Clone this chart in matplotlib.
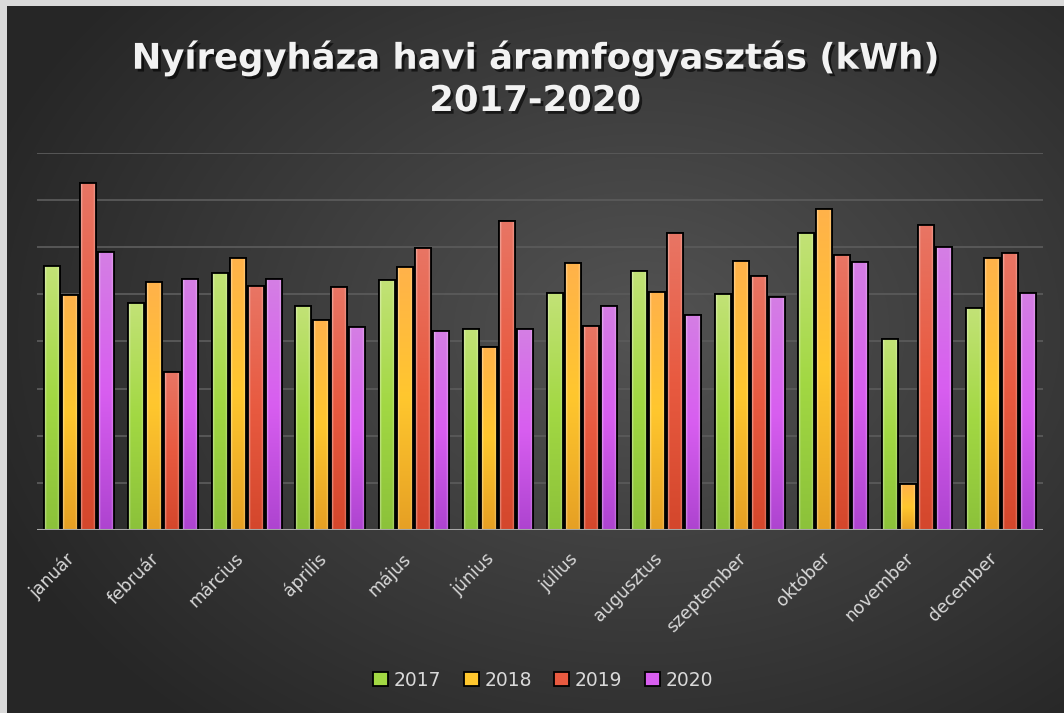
import numpy as np
import matplotlib
matplotlib.use("Agg")
import matplotlib.pyplot as plt
from matplotlib.patches import Rectangle
from matplotlib.colors import to_rgb
import matplotlib.patheffects as pe

months = ["január", "február", "március", "április", "május", "június",
          "július", "augusztus", "szeptember", "október", "november", "december"]
years = ["2017", "2018", "2019", "2020"]
v2017 = [5.59, 4.81, 5.44, 4.75, 5.30, 4.26, 5.02, 5.49, 5.01, 6.29, 4.05, 4.70]
v2018 = [4.99, 5.25, 5.77, 4.45, 5.58, 3.87, 5.66, 5.04, 5.70, 6.81, 0.97, 5.76]
v2019 = [7.36, 3.35, 5.17, 5.16, 5.98, 6.55, 4.32, 6.29, 5.39, 5.83, 6.47, 5.87]
v2020 = [5.89, 5.32, 5.32, 4.30, 4.22, 4.26, 4.75, 4.56, 4.94, 5.69, 6.00, 5.02]
series = [v2017, v2018, v2019, v2020]

# (top, middle, bottom) gradient colours
grads = [("#c2e276", "#a2d843", "#8cc23a"),
         ("#ffb24a", "#ffc72e", "#e6a024"),
         ("#e87564", "#e85a40", "#d4472c"),
         ("#d47ee4", "#d85ef0", "#ae44d0")]

W, H = 1064, 713
fig = plt.figure(figsize=(W / 100, H / 100), dpi=100)

# background
bg = fig.add_axes([0, 0, 1, 1])
bg.set_axis_off()
yy, xx = np.mgrid[0:H, 0:W]
r = np.sqrt(((xx - 640) / 700.0) ** 2 + ((yy - 330) / 520.0) ** 2)
r = np.clip(r, 0, 1)
c_in = np.array(to_rgb("#535353"))
c_out = np.array(to_rgb("#262626"))
img = c_in[None, None, :] * (1 - r[..., None]) + c_out[None, None, :] * r[..., None]
img[:, :7, :] = to_rgb("#dadada")
img[:6, :, :] = to_rgb("#dadada")
bg.imshow(img, extent=[0, W, H, 0], aspect="auto", interpolation="bilinear")
bg.set_xlim(0, W)
bg.set_ylim(H, 0)

ax = fig.add_axes([37 / W, 1 - 530 / H, (1043 - 37) / W, (530 - 152.7) / H])
ax.set_facecolor("none")
for s in ax.spines.values():
    s.set_visible(False)

n = len(months)
x = np.arange(n)
pitch = 0.215
bw = 0.19
ax.set_xlim(-0.5, n - 0.5)
ax.set_ylim(0, 8)

for gy in range(1, 9):
    ax.axhline(gy, color="#5a5a5a", lw=1.3, zorder=0)
ax.axhline(0, color="#a8a8a8", lw=2.2, zorder=5)

def grad_img(cols):
    t, m, b = [np.array(to_rgb(c)) for c in cols]
    N = 64
    s = np.linspace(0, 1, N)[:, None]
    top_half = t * (1 - np.clip(s * 2, 0, 1)) + m * np.clip(s * 2, 0, 1)
    bot = m * (1 - np.clip(s * 2 - 1, 0, 1)) + b * np.clip(s * 2 - 1, 0, 1)
    col = np.where(s < 0.5, top_half, bot)
    arr = np.repeat(col[:, None, :], 8, axis=1)
    # lighter edges (bevel)
    arr[:, 0, :] = arr[:, 0, :] * 0.6 + 0.4
    arr[:, -1, :] = arr[:, -1, :] * 0.75 + 0.25
    return np.clip(arr, 0, 1)

handles = []
for i, (vals, cols) in enumerate(zip(series, grads)):
    offs = (i - 1.5) * pitch
    bars = ax.bar(x + offs, vals, width=bw, color=cols[1], edgecolor="black",
                  linewidth=1.3, zorder=3, label=years[i])
    gimg = grad_img(cols)
    for b in bars:
        bx, by = b.get_x(), b.get_y()
        bwid, bh = b.get_width(), b.get_height()
        im = ax.imshow(gimg, extent=[bx, bx + bwid, by, by + bh], aspect="auto",
                       zorder=3.5, interpolation="bilinear", origin="upper")
        clip = Rectangle((bx, by), bwid, bh, transform=ax.transData)
        im.set_clip_path(clip)
        ax.add_patch(Rectangle((bx, by), bwid, bh, fill=False, edgecolor="black",
                               linewidth=1.3, zorder=4))
    handles.append(Rectangle((0, 0), 1, 1, facecolor=cols[1], edgecolor="black", linewidth=1.3))

ax.set_xlim(-0.5, n - 0.5)
ax.set_ylim(0, 8)
ax.set_yticks([])
ax.set_xticks(x)
ax.set_xticklabels(months, rotation=45, ha="right", fontsize=12.5, color="#d9d9d9",
                   family="DejaVu Sans")
ax.tick_params(axis="x", length=0, pad=14)

shadow = [pe.withSimplePatchShadow(offset=(2, -2), shadow_rgbFace="black", alpha=0.6)]
fig.text(0.503, 1 - 58 / H, "Nyíregyháza havi áramfogyasztás (kWh)", ha="center", va="center",
         fontsize=25.5, fontweight="bold", color="#f2f2f2", family="DejaVu Sans",
         path_effects=shadow)
fig.text(0.503, 1 - 101 / H, "2017-2020", ha="center", va="center",
         fontsize=25.5, fontweight="bold", color="#f2f2f2", family="DejaVu Sans",
         path_effects=shadow)

leg = fig.legend(handles, years, loc="center", bbox_to_anchor=(543 / W, 1 - 680 / H), ncol=4,
                 frameon=False, fontsize=13.5, labelcolor="#d9d9d9", handlelength=0.8,
                 handleheight=0.8, handletextpad=0.3, columnspacing=1.2)

fig.savefig("out.png", dpi=100)
